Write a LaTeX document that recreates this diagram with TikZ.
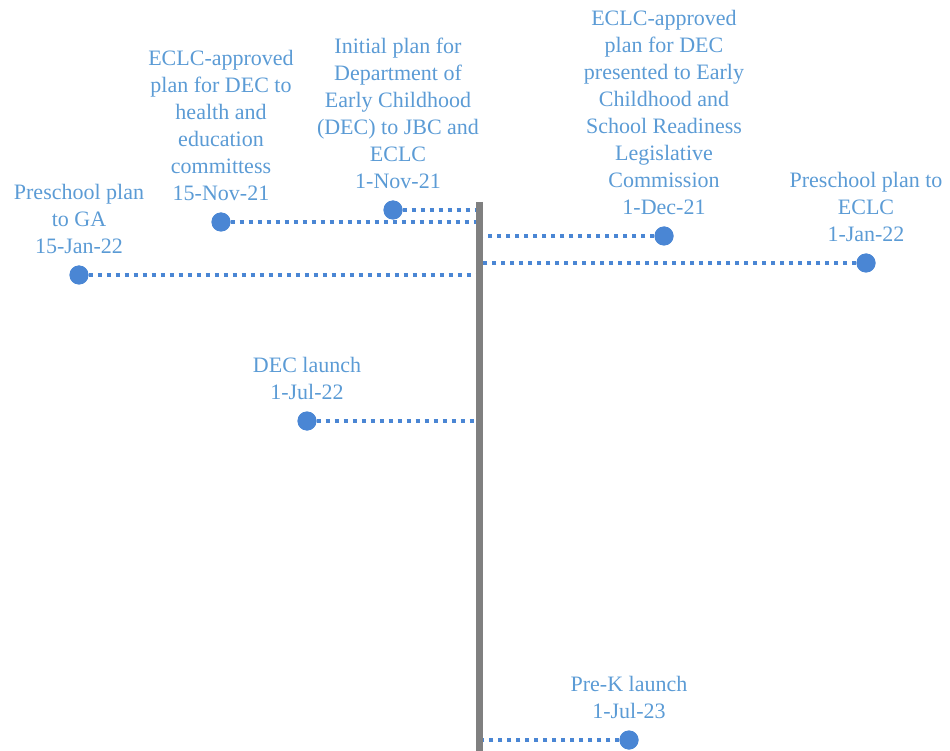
\documentclass[tikz,border=0pt]{standalone}
\usepackage{fontspec}
\setmainfont{Liberation Serif}
\usetikzlibrary{positioning}
\definecolor{eventblue}{RGB}{74,134,212}
\definecolor{labelblue}{RGB}{91,155,213}
\definecolor{axisgray}{RGB}{128,128,128}

\begin{document}
\begin{tikzpicture}[
  x=1pt, y=-1pt,
  event/.style={circle, fill=eventblue, inner sep=0pt, minimum size=19pt},
  eventlabel/.style={align=center, text=labelblue, font=\fontsize{22}{27}\selectfont, inner sep=0pt},
  leader/.style={eventblue, line width=4pt, dash pattern=on 4pt off 5pt},
  axisline/.style={axisgray, line width=7pt},
]
\useasboundingbox (0,0) rectangle (950,751);

% ===== Time axis =====
\coordinate (axtop) at (479,202);
\coordinate (axbot) at (479,751);

% ===== Event dots =====
\node[event] (nov1)  at (393,210) {};
\node[event] (nov15) at (221,222) {};
\node[event] (dec1)  at (664,236) {};
\node[event] (jan1)  at (866,263) {};
\node[event] (jan15) at (79,275) {};
\node[event] (jul22) at (307,421) {};
\node[event] (jul23) at (629,740) {};

% ===== Leaders from dots to the axis =====
\draw[leader] (nov1)  -- (nov1 -| axtop);
\draw[leader] (nov15) -- (nov15 -| axtop);
\draw[leader] (dec1)  -- (dec1 -| axtop);
\draw[leader] (jan1)  -- (jan1 -| axtop);
\draw[leader] (jan15) -- (jan15 -| axtop);
\draw[leader] (jul22) -- (jul22 -| axtop);
\draw[leader] (jul23) -- (jul23 -| axtop);

% redraw dots over the leaders, axis on top
\foreach \d in {nov1,nov15,dec1,jan1,jan15,jul22,jul23}
  \fill[eventblue] (\d) circle (9.5pt);
\draw[axisline] (axtop) -- (axbot);

% ===== Labels =====
\node[eventlabel, above=11pt of nov1, xshift=5pt] (nov1lbl)
  {Initial plan for\\Department of\\Early Childhood\\(DEC) to JBC and\\ECLC\\1-Nov-21};
\node[eventlabel, above=11pt of nov15] (nov15lbl)
  {ECLC-approved\\plan for DEC to\\health and\\education\\committess\\15-Nov-21};
\node[eventlabel, above=11pt of dec1] (dec1lbl)
  {ECLC-approved\\plan for DEC\\presented to Early\\Childhood and\\School Readiness\\Legislative\\Commission\\1-Dec-21};
\node[eventlabel, above=11pt of jan1] (jan1lbl)
  {Preschool plan to\\ECLC\\1-Jan-22};
\node[eventlabel, above=11pt of jan15] (jan15lbl)
  {Preschool plan\\to GA\\15-Jan-22};
\node[eventlabel, above=11pt of jul22] (jul22lbl)
  {DEC launch\\1-Jul-22};
\node[eventlabel, above=11pt of jul23] (jul23lbl)
  {Pre-K launch\\1-Jul-23};

\end{tikzpicture}
\end{document}
